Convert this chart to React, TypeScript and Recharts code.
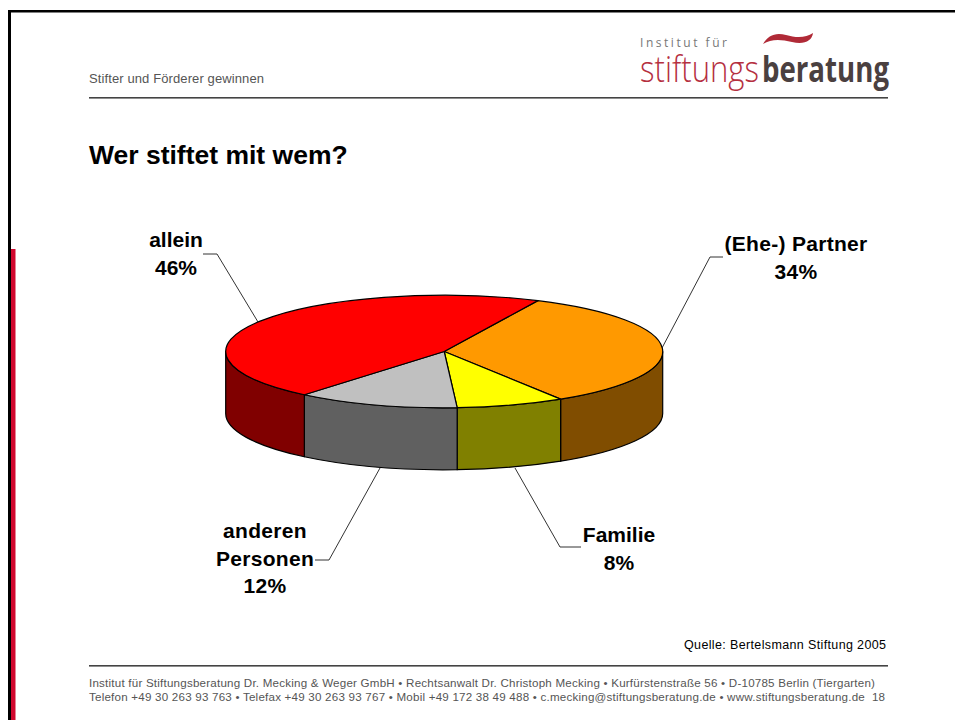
import { Pie, PieChart } from 'recharts';

const SLICE_NAMES = ['(Ehe-) Partner', 'Familie', 'anderen Personen', 'allein'];
const SLICE_VALUES = [34, 8, 12, 46];
const TOP_COLORS = ['#ff9900', '#ffff00', '#c0c0c0', '#ff0000'];
const WALL_COLORS = ['#804d00', '#808000', '#606060', '#800000'];

const FOOTER_LINES = [
  'Institut für Stiftungsberatung Dr. Mecking & Weger GmbH • Rechtsanwalt Dr. Christoph Mecking • Kurfürstenstraße 56 • D-10785 Berlin (Tiergarten)',
  'Telefon +49 30 263 93 763 • Telefax +49 30 263 93 767 • Mobil +49 172 38 49 488 • c.mecking@stiftungsberatung.de • www.stiftungsberatung.de  18',
];

const topData = SLICE_NAMES.map((name, i) => ({ name, value: SLICE_VALUES[i], fill: TOP_COLORS[i] }));
const wallData = SLICE_NAMES.map((name, i) => ({ name, value: SLICE_VALUES[i], fill: WALL_COLORS[i] }));

// the pie is squashed to an ellipse, this is the height/width ratio of the tilted disc
const TILT = 56.3 / 218.5;
const DEPTH = 62;
const FONT = '"Liberation Sans", Arial, sans-serif';

const rad = (deg: number) => (deg * Math.PI) / 180;

function rimPoint(cx: number, cy: number, r: number, deg: number) {
  return [cx + r * Math.cos(rad(deg)), cy - r * TILT * Math.sin(rad(deg))];
}

function TopSlice(props: any) {
  const { cx, cy, outerRadius: r, startAngle, endAngle, fill } = props;
  const [x0, y0] = rimPoint(cx, cy, r, startAngle);
  const [x1, y1] = rimPoint(cx, cy, r, endAngle);
  const large = Math.abs(endAngle - startAngle) > 180 ? 1 : 0;
  return (
    <path
      d={`M${cx},${cy}L${x0},${y0}A${r},${r * TILT} 0 ${large} 1 ${x1},${y1}Z`}
      fill={fill}
      stroke="#000"
      strokeWidth={1.2}
      strokeLinejoin="round"
    />
  );
}

// only the part of a slice on the front half of the disc has a visible side
function WallSlice(props: any) {
  const { cx, cy, outerRadius: r, startAngle, endAngle, fill } = props;
  const from = Math.min(startAngle, 0);
  const to = Math.max(endAngle, -180);
  if (from <= to) return <g />;
  const [x0, y0] = rimPoint(cx, cy, r, from);
  const [x1, y1] = rimPoint(cx, cy, r, to);
  const ry = r * TILT;
  return (
    <path
      d={`M${x0},${y0}A${r},${ry} 0 0 1 ${x1},${y1}L${x1},${y1 + DEPTH}A${r},${ry} 0 0 0 ${x0},${y0 + DEPTH}Z`}
      fill={fill}
      stroke="#000"
      strokeWidth={1.2}
      strokeLinejoin="round"
    />
  );
}

function SliceLabel({ x, y, lines, spacing = 0 }: { x: number; y: number; lines: string[]; spacing?: number }) {
  return (
    <text x={x} y={y} textAnchor="middle" fontFamily={FONT} fontWeight="bold" fontSize={21} fill="#000" letterSpacing={spacing}>
      {lines.map((line, i) => (
        <tspan key={i} x={x} dy={i === 0 ? 0 : 27.5}>
          {line}
        </tspan>
      ))}
    </text>
  );
}

const pct = (i: number) => `${SLICE_VALUES[i]}%`;

export default function App() {
  return (
    <div style={{ position: 'absolute', left: 0, top: 0, width: 955, height: 720, background: '#fff', overflow: 'hidden' }}>
      <PieChart width={955} height={720} margin={{ top: 0, right: 0, bottom: 0, left: 0 }} accessibilityLayer={false}>
        {/* slide frame */}
        <rect x={8} y={10} width={947} height={2.5} fill="#000" />
        <rect x={8} y={10} width={3} height={710} fill="#000" />
        <rect x={11} y={249} width={4.5} height={471} fill="#d0082d" />

        {/* header */}
        <text x={89} y={83} fontFamily={FONT} fontSize={13} fill="#555" textLength={175}>
          Stifter und Förderer gewinnen
        </text>
        <rect x={89} y={97} width={799} height={1.6} fill="#444" />
        <text x={89} y={164} fontFamily={FONT} fontWeight="bold" fontSize={26.5} fill="#000">
          Wer stiftet mit wem?
        </text>

        {/* logo */}
        <text x={640} y={47} fontFamily='"Open Sans", sans-serif' fontSize={12} fill="#777" textLength={87}>
          Institut für
        </text>
        <path
          d="M763,44 C768,35 776,32 786,35 C796,38 806,38 813,33 C812,41 804,45 792,42 C780,39 771,39 763,44 Z"
          fill="#b02a37"
        />
        <text x={640} y={82} fontFamily='"Open Sans", sans-serif' fontWeight={300} fontSize={36} fill="#b5303f" textLength={119} lengthAdjust="spacingAndGlyphs">
          stiftungs
        </text>
        <text x={762} y={82} fontFamily='"Open Sans", sans-serif' fontWeight={700} fontSize={36} fill="#4a4040" textLength={127} lengthAdjust="spacingAndGlyphs">
          beratung
        </text>

        {/* leader lines */}
        <g fill="none" stroke="#333" strokeWidth={1}>
          <polyline points="203,254 217,254 258,322" />
          <polyline points="723,257 710,257 662,348" />
          <polyline points="581,547 560,547 515,468" />
          <polyline points="315,560 329,560 380,468" />
        </g>

        <Pie
          data={wallData}
          dataKey="value"
          nameKey="name"
          cx={444.2}
          cy={351.5}
          outerRadius={218.5}
          startAngle={64.6}
          endAngle={-295.4}
          shape={WallSlice}
          labelLine={false}
          isAnimationActive={false}
        />
        <Pie
          data={topData}
          dataKey="value"
          nameKey="name"
          cx={444.2}
          cy={351.5}
          outerRadius={218.5}
          startAngle={64.6}
          endAngle={-295.4}
          shape={TopSlice}
          labelLine={false}
          isAnimationActive={false}
        />

        <SliceLabel x={176} y={247} lines={[SLICE_NAMES[3], pct(3)]} />
        <SliceLabel x={796} y={251} lines={[SLICE_NAMES[0], pct(0)]} spacing={0.3} />
        <SliceLabel x={619} y={542} lines={[SLICE_NAMES[1], pct(1)]} />
        <SliceLabel x={265} y={538} lines={['anderen', 'Personen', pct(2)]} spacing={0.3} />

        {/* footer */}
        <text x={886} y={649} textAnchor="end" fontFamily={FONT} fontSize={12.5} fill="#000" textLength={202}>
          Quelle: Bertelsmann Stiftung 2005
        </text>
        <rect x={89} y={665} width={799} height={1.6} fill="#444" />
        <text x={89} y={687} fontFamily={FONT} fontSize={11.6} fill="#555" textLength={786}>
          {FOOTER_LINES[0]}
        </text>
        <text x={89} y={701} fontFamily={FONT} fontSize={11.6} fill="#555" textLength={796} style={{ whiteSpace: 'pre' }}>
          {FOOTER_LINES[1]}
        </text>
      </PieChart>
    </div>
  );
}
